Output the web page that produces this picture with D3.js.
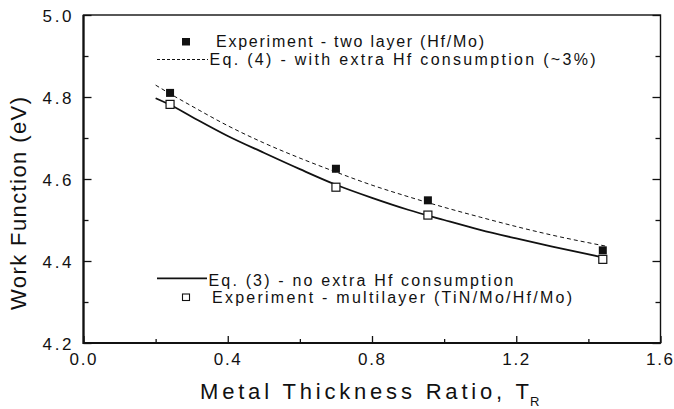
<!DOCTYPE html>
<html>
<head>
<meta charset="utf-8">
<script src="https://cdn.jsdelivr.net/npm/d3@7"></script>
<style>
  html, body { margin: 0; padding: 0; background: #fff; }
  svg { display: block; font-family: "Liberation Sans", Arial, Helvetica, sans-serif; }
</style>
</head>
<body>
<svg id="chart" width="674" height="409"></svg>
<script>
// Measured work function vs. metal thickness ratio
const ratioX = [0.24, 0.70, 0.955, 1.44];
const twoLayerWF = [4.81, 4.625, 4.548, 4.426];      // Hf/Mo stacks
const multiLayerWF = [4.782, 4.580, 4.512, 4.404];   // TiN/Mo/Hf/Mo stacks

// Model curves
const eq3X = [0.20, 0.24, 0.30, 0.40, 0.50, 0.60, 0.70, 0.80, 0.90, 1.00, 1.10, 1.20, 1.30, 1.44];
const eq3WF = [4.797, 4.781, 4.752, 4.705, 4.664, 4.624, 4.586, 4.554, 4.525, 4.500, 4.476, 4.455, 4.435, 4.409];
const eq4X = [0.20, 0.24, 0.30, 0.40, 0.50, 0.60, 0.70, 0.80, 0.90, 1.00, 1.10, 1.20, 1.30, 1.45];
const eq4WF = [4.829, 4.808, 4.778, 4.730, 4.688, 4.651, 4.617, 4.585, 4.557, 4.531, 4.507, 4.484, 4.463, 4.436];

// Axis ticks
const xMajorTicks = [0.0, 0.4, 0.8, 1.2, 1.6];
const xMinorTicks = [0.2, 0.6, 1.0, 1.4];
const yMajorTicks = [4.2, 4.4, 4.6, 4.8, 5.0];
const yMinorTicks = [4.3, 4.5, 4.7, 4.9];

const legendTop = ["Experiment - two layer (Hf/Mo)", "Eq. (4) - with extra Hf consumption (~3%)"];
const legendBottom = ["Eq. (3) - no extra Hf consumption", "Experiment - multilayer (TiN/Mo/Hf/Mo)"];

const ink = "#111";
const svg = d3.select("#chart");

const plotLeft = 83.5, plotRight = 660.5, plotTop = 15, plotBottom = 343;
const x = d3.scaleLinear().domain([0, 1.6]).range([plotLeft, plotRight]);
const y = d3.scaleLinear().domain([4.2, 5.0]).range([plotBottom, plotTop]);

// ticks pointing inward
function styleAxis(g) {
  g.select(".domain").remove();
  g.selectAll(".tick line").attr("stroke", ink).attr("stroke-width", 1.3);
}

svg.append("g").attr("transform", `translate(0,${plotBottom})`)
  .call(d3.axisBottom(x).tickValues(xMinorTicks).tickSize(-4).tickFormat(""))
  .call(styleAxis);
const xAxis = svg.append("g").attr("transform", `translate(0,${plotBottom})`)
  .call(d3.axisBottom(x).tickValues(xMajorTicks).tickSize(-7).tickFormat(d3.format(".1f")))
  .call(styleAxis);
xAxis.selectAll("text")
  .attr("y", 22).attr("dy", 0).attr("x", (d, i) => i === xMajorTicks.length - 1 ? -1.5 : -1)
  .attr("fill", ink).attr("font-size", 17)
  .attr("textLength", 27).attr("lengthAdjust", "spacing")
  .attr("font-family", "Liberation Sans, Arial, sans-serif");

svg.append("g").attr("transform", `translate(${plotLeft},0)`)
  .call(d3.axisLeft(y).tickValues(yMinorTicks).tickSize(-5).tickFormat(""))
  .call(styleAxis);
const yAxis = svg.append("g").attr("transform", `translate(${plotLeft},0)`)
  .call(d3.axisLeft(y).tickValues(yMajorTicks).tickSize(-8).tickFormat(d3.format(".1f")))
  .call(styleAxis);
yAxis.selectAll("text")
  .attr("x", -12).attr("dy", 6)
  .attr("fill", ink).attr("font-size", 17)
  .attr("textLength", 29).attr("lengthAdjust", "spacing")
  .attr("font-family", "Liberation Sans, Arial, sans-serif");

svg.append("g").attr("transform", `translate(${plotRight},0)`)
  .call(d3.axisRight(y).tickValues(yMajorTicks).tickSize(-8).tickFormat(""))
  .call(styleAxis);
svg.append("g").attr("transform", `translate(${plotRight},0)`)
  .call(d3.axisRight(y).tickValues(yMinorTicks).tickSize(-5).tickFormat(""))
  .call(styleAxis);

// frame
svg.append("rect")
  .attr("x", plotLeft).attr("y", plotTop).attr("width", plotRight - plotLeft).attr("height", plotBottom - plotTop)
  .attr("fill", "none").attr("stroke", ink).attr("stroke-width", 1.4);
svg.append("path")
  .attr("d", `M${plotLeft},${plotTop}V${plotBottom}H${plotRight}`)
  .attr("fill", "none").attr("stroke", ink).attr("stroke-width", 2.2);

// model curves
const line = d3.line().x(d => x(d[0])).y(d => y(d[1])).curve(d3.curveMonotoneX);
svg.append("path")
  .datum(d3.zip(eq4X, eq4WF))
  .attr("d", line).attr("fill", "none").attr("stroke", ink)
  .attr("stroke-width", 1).attr("stroke-dasharray", "4,3");
svg.append("path")
  .datum(d3.zip(eq3X, eq3WF))
  .attr("d", line).attr("fill", "none").attr("stroke", ink)
  .attr("stroke-width", 1.8);

// data markers
const sq = 8;
svg.append("g").selectAll("rect")
  .data(d3.zip(ratioX, twoLayerWF)).join("rect")
  .attr("x", d => x(d[0]) - sq / 2).attr("y", d => y(d[1]) - sq / 2)
  .attr("width", sq).attr("height", sq).attr("fill", ink);
svg.append("g").selectAll("rect")
  .data(d3.zip(ratioX, multiLayerWF)).join("rect")
  .attr("x", d => x(d[0]) - sq / 2).attr("y", d => y(d[1]) - sq / 2)
  .attr("width", sq).attr("height", sq).attr("fill", "#fff")
  .attr("stroke", ink).attr("stroke-width", 1.2);

// legends
const lg = svg.append("g").attr("fill", ink).attr("font-size", 16);
lg.append("rect").attr("x", 182).attr("y", 38).attr("width", 8).attr("height", 7.5).attr("fill", ink);
lg.append("text").attr("x", 216).attr("y", 46.7).attr("textLength", 268).attr("lengthAdjust", "spacing").text(legendTop[0]);
lg.append("line").attr("x1", 157).attr("x2", 208).attr("y1", 59.5).attr("y2", 59.5)
  .attr("stroke", ink).attr("stroke-width", 1).attr("stroke-dasharray", "3,2");
lg.append("text").attr("x", 209.5).attr("y", 65).attr("textLength", 386).attr("lengthAdjust", "spacing").text(legendTop[1]);

lg.append("line").attr("x1", 157).attr("x2", 207).attr("y1", 278.3).attr("y2", 278.3)
  .attr("stroke", ink).attr("stroke-width", 1.8);
lg.append("text").attr("x", 208.5).attr("y", 285.7).attr("textLength", 305).attr("lengthAdjust", "spacing").text(legendBottom[0]);
lg.append("rect").attr("x", 182.5).attr("y", 294).attr("width", 7).attr("height", 6.5)
  .attr("fill", "#fff").attr("stroke", ink).attr("stroke-width", 1.1);
lg.append("text").attr("x", 212).attr("y", 303.3).attr("textLength", 360).attr("lengthAdjust", "spacing").text(legendBottom[1]);

// axis titles
svg.append("text")
  .attr("transform", "translate(26,203.5) rotate(-90)")
  .attr("text-anchor", "middle").attr("font-size", 22).attr("fill", ink)
  .attr("textLength", 213).attr("lengthAdjust", "spacing")
  .text("Work Function (eV)");
svg.append("text")
  .attr("x", 200).attr("y", 399).attr("font-size", 22).attr("fill", ink)
  .attr("textLength", 329).attr("lengthAdjust", "spacing")
  .text("Metal Thickness Ratio, T");
svg.append("text")
  .attr("x", 530).attr("y", 405.5).attr("font-size", 13).attr("fill", ink)
  .text("R");
</script>
</body>
</html>
